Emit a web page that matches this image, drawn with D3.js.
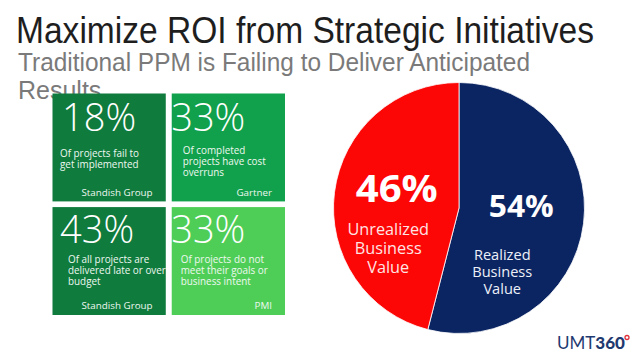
<!DOCTYPE html>
<html>
<head>
<meta charset="utf-8">
<script src="https://cdn.jsdelivr.net/npm/d3@7"></script>
<style>
html,body{margin:0;padding:0;background:#fff;}
svg{display:block;}
</style>
</head>
<body>
<svg id="chart" width="638" height="359"></svg>
<script>
// ---- data ----
const titleText = "Maximize ROI from Strategic Initiatives";
const subtitleLines = ["Traditional PPM is Failing to Deliver Anticipated", "Results"];

const tilePercents = ["18%", "33%", "43%", "33%"];
const tileDescriptions = [
  ["Of projects fail to", "get implemented"],
  ["Of completed", "projects have cost", "overruns"],
  ["Of all projects are", "delivered late or over", "budget"],
  ["Of projects do not", "meet their goals or", "business intent"]
];
const tileSources = ["Standish Group", "Gartner", "Standish Group", "PMI"];
const tileColors = ["#0f7b3d", "#11a04b", "#0f7b3d", "#4fce57"];

const pieCategories = ["Realized Business Value", "Unrealized Business Value"];
const pieValues = [54, 46];
const pieLabels = ["54%", "46%"];
const pieSubLabels = [["Realized", "Business", "Value"], ["Unrealized", "Business", "Value"]];
const pieColors = ["#0b2563", "#fd0606"];

// ---- drawing ----
const svg = d3.select("#chart");

// Title
svg.append("text")
  .attr("x", 16).attr("y", 43)
  .attr("font-family", "Liberation Sans, Arial, sans-serif")
  .attr("font-size", 36)
  .attr("fill", "#1e1e1e")
  .attr("textLength", 578).attr("lengthAdjust", "spacingAndGlyphs")
  .text(titleText);

// Subtitle
const sub = svg.append("g")
  .attr("font-family", "Liberation Sans, Arial, sans-serif")
  .attr("font-size", 25)
  .attr("fill", "#7a7a7a");
sub.append("text").attr("x", 18).attr("y", 71)
  .attr("textLength", 512).attr("lengthAdjust", "spacingAndGlyphs")
  .text(subtitleLines[0]);
sub.append("text").attr("x", 18).attr("y", 99)
  .text(subtitleLines[1]);

// Tiles
const col = d3.scaleBand().domain([0, 1]).range([52.5, 285]).paddingInner(0.05);
const row = d3.scaleBand().domain([0, 1]).range([93.5, 315]).paddingInner(0.05);

const tiles = svg.append("g").selectAll("g")
  .data(tilePercents.map((p, i) => ({p, i, desc: tileDescriptions[i], src: tileSources[i], color: tileColors[i]})))
  .join("g")
  .attr("transform", d => `translate(${col(d.i % 2)},${row(Math.floor(d.i / 2))})`);

tiles.append("rect")
  .attr("width", col.bandwidth())
  .attr("height", row.bandwidth())
  .attr("fill", d => d.color);

const pctX = [9.5, -0.5, 7.5, -0.5];
tiles.append("text")
  .attr("x", d => pctX[d.i])
  .attr("y", d => d.i < 2 ? 37 : 35.5)
  .attr("font-family", "Open Sans, Noto Sans, sans-serif")
  .attr("font-weight", 300)
  .attr("font-size", 38)
  .attr("fill", "#fff")
  .text(d => d.p);

const descX = [7.5, 11, 15.5, 9];
const descY = [63, 60, 56, 56];
tiles.each(function(d) {
  const g = d3.select(this);
  const t = g.append("text")
    .attr("font-family", "Open Sans, Noto Sans, sans-serif")
    .attr("font-size", 9.9)
    .attr("fill", "#eef8f0");
  d.desc.forEach((line, k) => {
    t.append("tspan")
      .attr("x", descX[d.i])
      .attr("y", descY[d.i] + k * 11.2)
      .text(line);
  });
});

tiles.append("text")
  .attr("x", d => d.i % 2 === 0 ? 29 : col.bandwidth() - 13)
  .attr("y", d => d.i < 2 ? 102.5 : 101.5)
  .attr("text-anchor", d => d.i % 2 === 0 ? "start" : "end")
  .attr("font-family", "Open Sans, Noto Sans, sans-serif")
  .attr("font-size", 9.8)
  .attr("fill", "#eef8f0")
  .text(d => d.src);

// Pie
const cx = 459, cy = 208, r = 125.5;
const pie = d3.pie().sort(null).value(d => d)(pieValues);
const arc = d3.arc().innerRadius(0).outerRadius(r);
const pg = svg.append("g").attr("transform", `translate(${cx},${cy})`);

pg.selectAll("path")
  .data(pie)
  .join("path")
  .attr("d", arc)
  .attr("fill", (d, i) => pieColors[i])
  .attr("stroke", "#ffffff")
  .attr("stroke-width", 0.8);

const bigOffset = [[0, 1.5], [0, 2]];
const bigSize = [30, 37];
const bigLen = [65, 82];
const subOffset = [[-19, 44.5], [-8.5, 35]];
const subSize = [14.6, 16.3];
const subStep = [16.6, 19];
const subColors = ["#eef0f8", "#ffe4e4"];

pie.forEach((d, i) => {
  const [mx, my] = arc.centroid(d);
  pg.append("text")
    .attr("x", mx + bigOffset[i][0])
    .attr("y", my + bigOffset[i][1])
    .attr("text-anchor", "middle")
    .attr("font-family", "Open Sans, Noto Sans, sans-serif")
    .attr("font-weight", 700)
    .attr("font-size", bigSize[i])
    .attr("textLength", bigLen[i]).attr("lengthAdjust", "spacingAndGlyphs")
    .attr("fill", "#fff")
    .text(pieLabels[i]);
  const t = pg.append("text")
    .attr("text-anchor", "middle")
    .attr("font-family", "Open Sans, Noto Sans, sans-serif")
    .attr("font-size", subSize[i])
    .attr("fill", subColors[i]);
  pieSubLabels[i].forEach((line, k) => {
    t.append("tspan")
      .attr("x", mx + subOffset[i][0])
      .attr("y", my + subOffset[i][1] + k * subStep[i])
      .text(line);
  });
});

// Logo
const logo = svg.append("text")
  .attr("x", 557).attr("y", 348.5)
  .attr("font-family", "Lato, Open Sans, sans-serif")
  .attr("font-size", 16.5)
  .attr("fill", "#1f3a70")
  .attr("textLength", 68).attr("lengthAdjust", "spacingAndGlyphs");
logo.append("tspan").attr("font-weight", 400).text("UMT");
logo.append("tspan").attr("font-weight", 900).text("360");
svg.append("circle").attr("cx", 627).attr("cy", 337.5).attr("r", 2)
  .attr("fill", "none").attr("stroke", "#e0303a").attr("stroke-width", 1.3);
</script>
</body>
</html>
